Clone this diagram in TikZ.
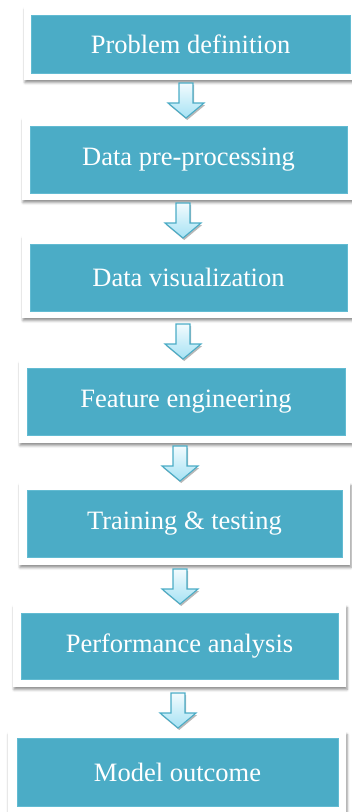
\documentclass[tikz,border=0pt]{standalone}
\usepackage{fontspec}
\setmainfont{Liberation Serif}
\usetikzlibrary{shadows.blur}

\definecolor{accent}{HTML}{4BACC6}
\definecolor{accentedge}{HTML}{62BBD2}
\definecolor{arrowtop}{HTML}{F2FBFE}
\definecolor{arrowbottom}{HTML}{A6E2F4}

\tikzset{
  frame/.style={rectangle, fill=white, draw=none, inner sep=0pt,
    blur shadow={shadow xshift=1pt, shadow yshift=-2.5pt, shadow blur radius=2.5pt,
      shadow opacity=45}},
  stepbox/.style={rectangle, fill=accent, draw=accentedge, line width=0.8pt,
    inner sep=0pt, text=white, font=\fontsize{26.5}{30}\selectfont},
  pics/downarrow/.style={code={
    \fill[black, opacity=0.28, shift={(1.2,2)}]
      (-7,0) -- (7,0) -- (7,20) -- (18,20) -- (0,35) -- (-18,20) -- (-7,20) -- cycle;
    \draw[draw=accent, line width=1.1pt, line join=miter, top color=arrowtop, bottom color=arrowbottom]
      (-7,0) -- (7,0) -- (7,20) -- (18,20) -- (0,35) -- (-18,20) -- (-7,20) -- cycle;
  }}
}

\begin{document}
\begin{tikzpicture}[x=1pt, y=-1pt]
  \useasboundingbox (0,0) rectangle (352,812);

  % white frames carrying the shadow
  \node[frame, minimum width=332pt, minimum height=73pt] (f1) at (190,43.5) {};
  \node[frame, minimum width=332pt, minimum height=82pt] (f2) at (188,159) {};
  \node[frame, minimum width=332pt, minimum height=82pt] (f3) at (188,277) {};
  \node[frame, minimum width=333pt, minimum height=82pt] (f4) at (185.5,402) {};
  \node[frame, minimum width=331pt, minimum height=82pt] (f5) at (184.5,524) {};
  \node[frame, minimum width=333pt, minimum height=82pt] (f6) at (179.5,646) {};
  \node[frame, minimum width=338pt, minimum height=83pt] (f7) at (177,773.5) {};

  % process steps
  \node[stepbox, minimum width=319pt, minimum height=58pt] (s1) at (190.5,44) {Problem definition};
  \node[stepbox, minimum width=317pt, minimum height=67pt] (s2) at (188.5,159.5) {Data pre-processing};
  \node[stepbox, minimum width=317pt, minimum height=67pt] (s3) at (188.5,277.5) {Data visualization};
  \node[stepbox, minimum width=318pt, minimum height=67pt] (s4) at (186,401.5) {Feature engineering};
  \node[stepbox, minimum width=315pt, minimum height=67pt] (s5) at (184.5,523.5) {Training \& testing};
  \node[stepbox, minimum width=317pt, minimum height=66pt] (s6) at (179.5,646) {Performance analysis};
  \node[stepbox, minimum width=321pt, minimum height=68pt] (s7) at (177.5,772) {Model outcome};

  % block arrows between the steps
  \pic at (186,83) {downarrow};
  \pic at (183,203) {downarrow};
  \pic at (183,324) {downarrow};
  \pic at (180,446) {downarrow};
  \pic at (180,569) {downarrow};
  \pic at (178,693) {downarrow};
\end{tikzpicture}
\end{document}
